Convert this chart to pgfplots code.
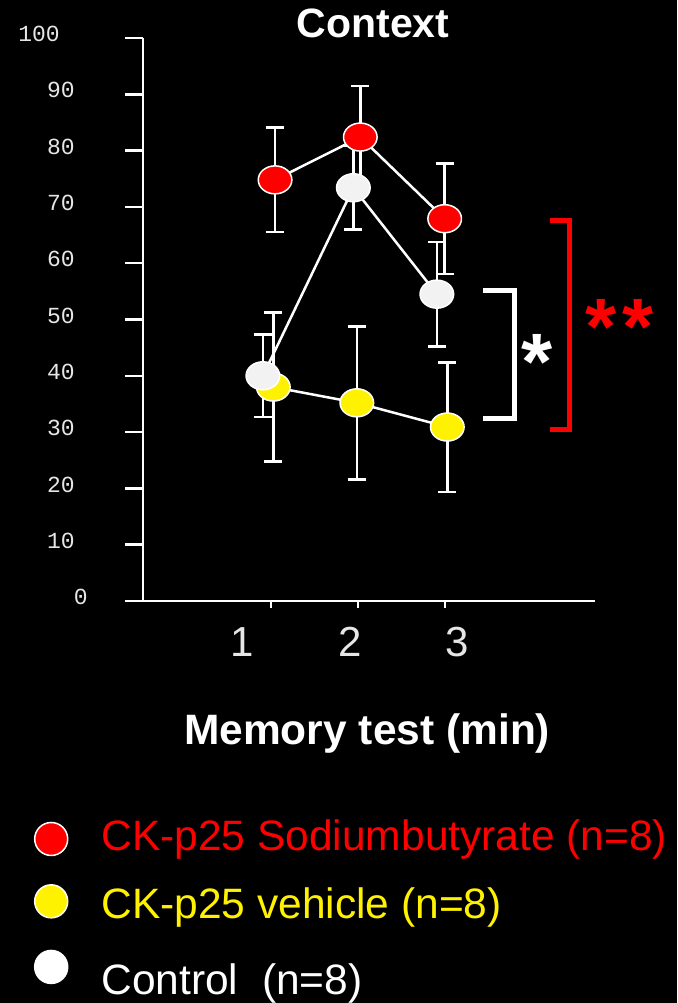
\documentclass[border=0pt]{standalone}
\usepackage{pgfplots}
\pgfplotsset{compat=1.18}
\usepackage{fontspec}
\setmainfont{Liberation Sans}
\newfontfamily\monofont{Liberation Mono}
\definecolor{ltgray}{HTML}{E6E6E6}
\definecolor{wfill}{HTML}{F2F2F2}
\begin{document}
\begin{tikzpicture}[x=1pt,y=1pt]
\fill[black] (0,0) rectangle (677,1003);
\begin{axis}[
  at={(143pt,402pt)}, anchor=south west,
  scale only axis, width=452pt, height=563pt,
  xmin=-0.468, xmax=4.728, ymin=0, ymax=100,
  clip=false,
  axis x line*=bottom, axis y line*=left,
  axis line style={white, line width=2.5pt},
  tick align=outside,
  major tick length=7pt,
  tick style={white, line width=2.5pt},
  y tick style={/pgfplots/major tick length=18pt},
  x tick style={line width=2pt},
  xtick={1,2,3}, xticklabels={,,},
  extra x ticks={0.67,1.91,3.14},
  extra x tick labels={1,2,3},
  extra x tick style={major tick length=0pt, tick style={draw=none},
    xticklabel style={anchor=base, yshift=-56pt, text=ltgray, font=\fontsize{42}{42}\selectfont}},
  ytick={0,10,...,100},
  yticklabels={{0\hspace*{-13pt}},10,20,30,40,50,60,70,80,90,{100\hspace*{15pt}}},
  yticklabel style={anchor=base east, inner sep=0pt, xshift=-61pt, yshift=-3.7pt, text=ltgray, font=\monofont\fontsize{23}{23}\selectfont},
  title={Context},
  title style={font=\bfseries\fontsize{41}{41}\selectfont, text=white, at={(0.509,1)}, anchor=base, yshift=-6pt},
  xlabel={Memory test (min)},
  xlabel style={font=\bfseries\fontsize{42.5}{42.5}\selectfont, text=white, at={(0.496,0)}, anchor=base, yshift=-143pt},
  legend style={at={(-0.2417,-0.3854)}, anchor=north west, draw=none, fill=none, inner sep=0pt,
    font=\fontsize{42.5}{42.5}\selectfont, cells={anchor=base west}, column sep=31pt, row sep=20.85pt},
  error bars/y dir=both, error bars/y explicit,
  error bars/error bar style={white, line width=2.5pt},
  error bars/error mark options={rotate=90, white, mark size=9pt, line width=2.5pt},
]
\addplot+[white, line width=2.5pt, mark=*, mark size=14pt,
  mark options={xscale=1.2, fill=red, draw=white, line width=1.5pt, solid},
  legend image code/.code={\draw[fill=red, draw=white, line width=1.5pt] (0pt,12pt) circle (16.5pt);}]
  coordinates {(1.05,74.8) +- (0,9.3) (2.03,82.4) +- (0,9.1) (3.00,67.9) +- (0,9.8)};
\addlegendentry{\textcolor{red}{CK-p25 Sodiumbutyrate (n=8)}}
\addplot+[white, line width=2.5pt, mark=*, mark size=14pt,
  mark options={xscale=1.2, fill=yellow, draw=white, line width=1.5pt, solid},
  legend image code/.code={\draw[fill=yellow, draw=white, line width=1.5pt] (0pt,17pt) circle (16.5pt);}]
  coordinates {(1.03,38.0) +- (0,13.2) (1.99,35.2) +- (0,13.6) (3.03,30.9) +- (0,11.5)};
\addlegendentry{\rule{0pt}{39.25pt}\textcolor{yellow}{CK-p25 vehicle (n=8)}}
\addplot+[white, line width=2.5pt, mark=*, mark size=14pt,
  mark options={xscale=1.2, fill=wfill, draw=white, line width=1.5pt, solid},
  legend image code/.code={\draw[fill=white, draw=white, line width=1.5pt] (0pt,28pt) circle (16.5pt);}]
  coordinates {(0.91,40.0) +- (0,7.3) (1.95,73.4) +- (0,7.4) (2.91,54.5) +- (0,9.3)};
\addlegendentry{\rule{0pt}{50.25pt}\textcolor{white}{Control\ \ (n=8)}}
\draw[white, line width=5pt, miter limit=10] (axis cs:3.44,55.2) -- (axis cs:3.80,55.2) -- (axis cs:3.80,32.5) -- (axis cs:3.44,32.5);
\draw[red, line width=5pt, miter limit=10] (axis cs:4.21,67.5) -- (axis cs:4.44,67.5) -- (axis cs:4.44,30.4) -- (axis cs:4.21,30.4);
\end{axis}
\node[anchor=base, text=white, font=\bfseries\fontsize{80}{80}\selectfont, inner sep=0pt] at (537,613) {*};
\node[anchor=base, text=red, font=\bfseries\fontsize{80}{80}\selectfont, inner sep=0pt] at (620,648) {*\hspace{6pt}*};
\end{tikzpicture}
\end{document}
